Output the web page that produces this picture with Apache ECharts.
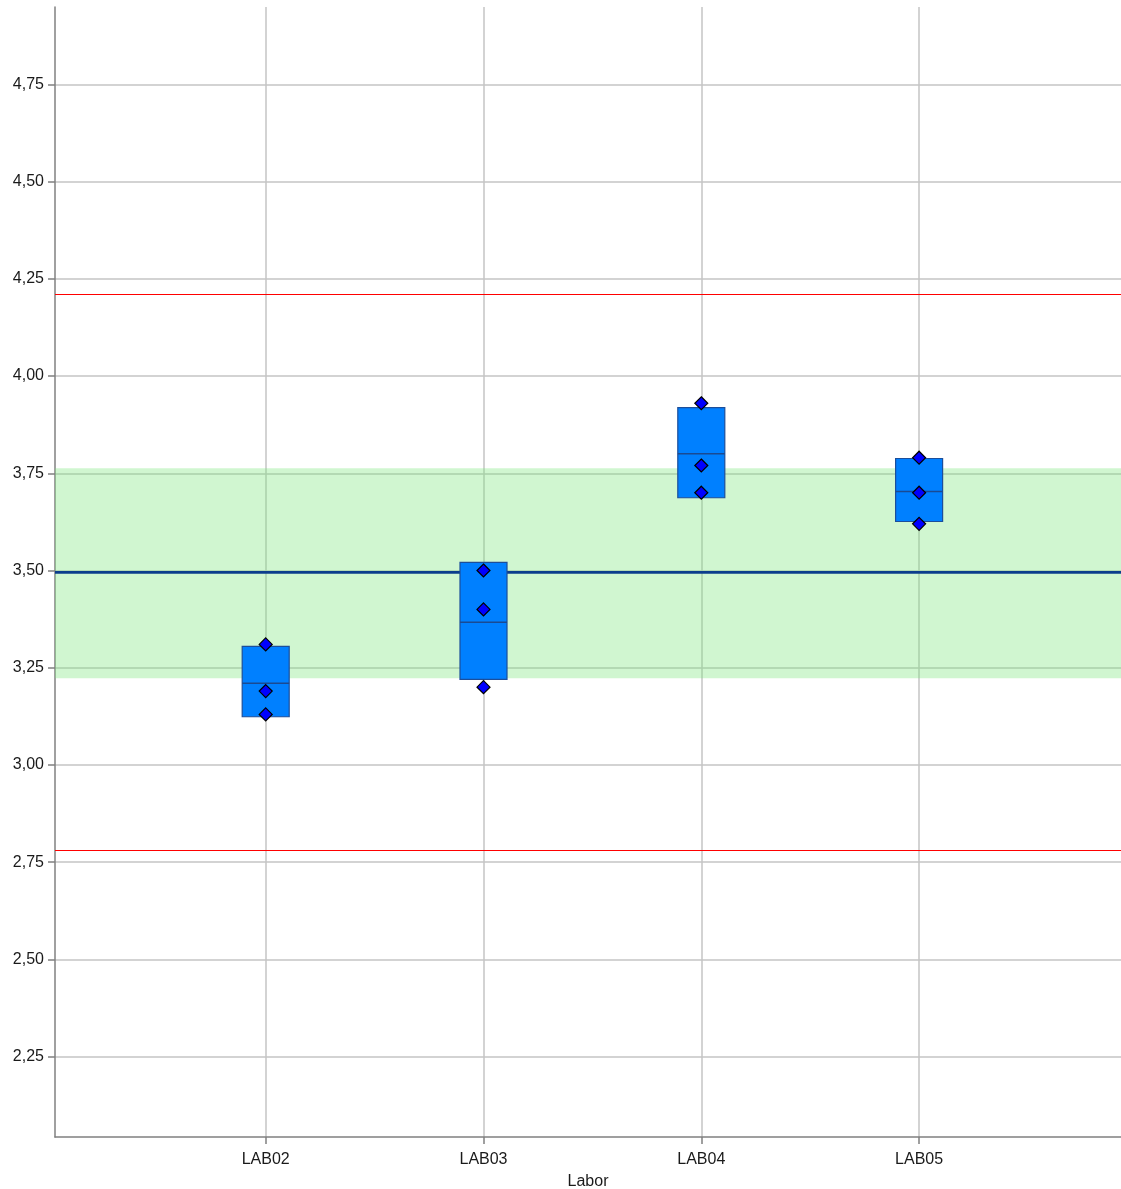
<!DOCTYPE html>
<html>
<head>
<meta charset="utf-8">
<style>
  html, body { margin: 0; padding: 0; background: #ffffff; }
  #chart { width: 1121px; height: 1189px; }
</style>
<script src="https://cdn.jsdelivr.net/npm/echarts@6/dist/echarts.min.js"></script>
</head>
<body>
<div id="chart"></div>
<script>
// Laboratories along the x axis
const labs = ['LAB02', 'LAB03', 'LAB04', 'LAB05'];

// Individual results per laboratory
const resultsLab02 = [3.31, 3.19, 3.13];
const resultsLab03 = [3.50, 3.40, 3.20];
const resultsLab04 = [3.93, 3.77, 3.70];
const resultsLab05 = [3.79, 3.70, 3.62];

// Per-laboratory mean and the box limits (mean - s, mean + s)
const labMeans = [3.21, 3.367, 3.80, 3.703];
const boxLow   = [3.124, 3.220, 3.687, 3.626];
const boxHigh  = [3.305, 3.521, 3.919, 3.788];

// Assigned value, tolerance band and action limits
const assignedValue = 3.495;
const bandLow = 3.223;
const bandHigh = 3.763;
const limitLow = 2.779;
const limitHigh = 4.211;

// Value axis ticks
const yTicks = [2.25, 2.50, 2.75, 3.00, 3.25, 3.50, 3.75, 4.00, 4.25, 4.50, 4.75];
const yMin = 2.0435;
const yMax = 4.9488;
const xPositions = [1, 2, 3, 4];
const xMin = 0.0326;
const xMax = 4.927;

const allResults = [resultsLab02, resultsLab03, resultsLab04, resultsLab05];
const pointData = [];
allResults.forEach((vals, i) => vals.forEach(v => pointData.push([xPositions[i], v])));
const boxData = labs.map((_, i) => [xPositions[i], boxLow[i], labMeans[i], boxHigh[i]]);

const fmtComma = v => v.toFixed(2).replace('.', ',');
const textColor = '#1a1a1a';
const font = 'Liberation Sans, Arial, sans-serif';

const chart = echarts.init(document.getElementById('chart'), null, { renderer: 'canvas' });
chart.setOption({
  animation: false,
  backgroundColor: '#ffffff',
  grid: { left: 55, right: 0, top: 7, bottom: 52, containLabel: false, outerBoundsMode: 'none' },
  xAxis: {
    type: 'value',
    min: xMin,
    max: xMax,
    name: 'Labor',
    nameLocation: 'middle',
    nameGap: 37,
    nameTextStyle: { color: textColor, fontSize: 16, fontFamily: font },
    axisLine: { show: true, onZero: false, lineStyle: { color: '#808080', width: 1.5 } },
    axisTick: { show: true, customValues: xPositions, length: 7, lineStyle: { color: '#808080', width: 1.5 } },
    axisLabel: {
      customValues: xPositions,
      margin: 15,
      color: textColor,
      fontSize: 16,
      fontFamily: font,
      formatter: v => labs[xPositions.indexOf(Math.round(v))] || ''
    },
    splitLine: { show: true, lineStyle: { color: '#c4c4c4', width: 1.5 } }
  },
  yAxis: {
    type: 'value',
    min: yMin,
    max: yMax,
    axisLine: { show: true, onZero: false, lineStyle: { color: '#808080', width: 1.5 } },
    axisTick: { show: true, customValues: yTicks, length: 7, lineStyle: { color: '#808080', width: 1.5 } },
    axisLabel: {
      customValues: yTicks,
      margin: 11,
      color: textColor,
      fontSize: 16,
      fontFamily: font,
      formatter: v => fmtComma(v)
    },
    splitLine: { show: true, lineStyle: { color: '#c4c4c4', width: 1.5 } }
  },
  series: [
    {
      // tolerance band, action limits and the top border of the plot
      type: 'line',
      data: [],
      z: 1,
      markArea: {
        silent: true,
        z: 1,
        itemStyle: { color: 'rgba(120, 230, 120, 0.35)' },
        data: [[{ yAxis: bandLow }, { yAxis: bandHigh }]]
      },
      markLine: {
        silent: true,
        z: 1,
        symbol: ['none', 'none'],
        label: { show: false },
        data: [
          { yAxis: yMax, lineStyle: { color: '#c4c4c4', width: 1.5, type: 'solid' } },
          { yAxis: limitHigh, lineStyle: { color: '#ff0000', width: 1.2, type: 'solid' } },
          { yAxis: limitLow, lineStyle: { color: '#ff0000', width: 1.2, type: 'solid' } }
        ]
      }
    },
    {
      // assigned value, drawn beneath the boxes
      type: 'line',
      z: 2,
      symbol: 'none',
      silent: true,
      lineStyle: { color: '#0b3d8c', width: 2.8 },
      data: [[xMin, assignedValue], [xMax, assignedValue]]
    },
    {
      // mean +/- s boxes with the mean line
      type: 'custom',
      z: 8,
      data: boxData,
      renderItem: (params, api) => {
        const x = api.value(0);
        const top = api.coord([x, api.value(3)]);
        const bot = api.coord([x, api.value(1)]);
        const mid = api.coord([x, api.value(2)]);
        const w = 47;
        return {
          type: 'group',
          children: [
            {
              type: 'rect',
              shape: { x: top[0] - w / 2, y: top[1], width: w, height: bot[1] - top[1] },
              style: { fill: '#0080ff', stroke: '#1c4e9a', lineWidth: 1.2 }
            },
            {
              type: 'line',
              shape: { x1: top[0] - w / 2, y1: mid[1], x2: top[0] + w / 2, y2: mid[1] },
              style: { stroke: '#1a4a92', lineWidth: 1.6 }
            }
          ]
        };
      }
    },
    {
      // individual results
      type: 'scatter',
      z: 9,
      symbol: 'diamond',
      symbolSize: 13,
      itemStyle: { color: '#0000ff', borderColor: '#000000', borderWidth: 1.2, opacity: 1 },
      data: pointData
    }
  ]
});
</script>
</body>
</html>
